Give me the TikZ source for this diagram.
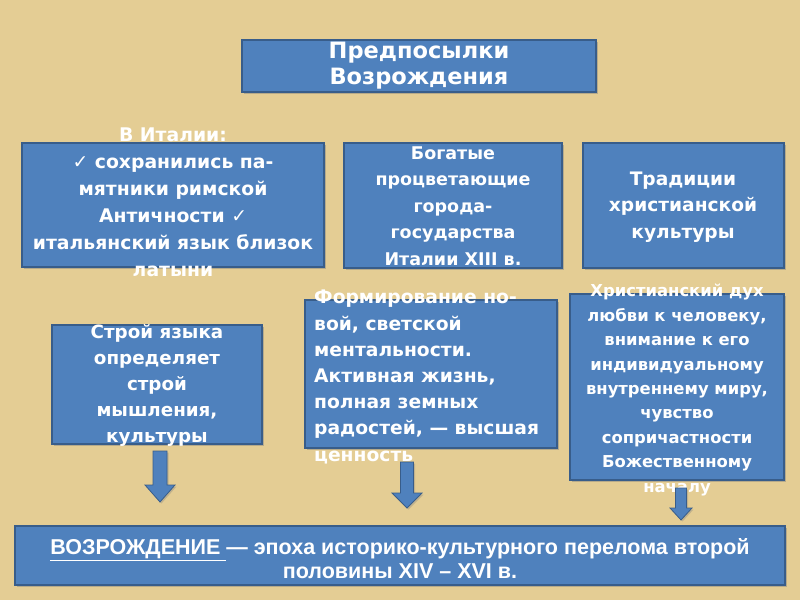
\documentclass[tikz,border=0pt]{standalone}
\usepackage{fontspec}
\usetikzlibrary{shadows}
\newfontfamily\bfont[BoldFont={DejaVu Sans Bold}]{DejaVu Sans}
\newfontfamily\nfont{Liberation Sans Bold}
\definecolor{parch}{RGB}{228,205,148}
\definecolor{boxfill}{RGB}{79,129,189}
\definecolor{boxline}{RGB}{56,93,138}
\tikzset{
  blbox/.style={draw=boxline, line width=1.2pt, fill=boxfill, inner sep=0pt,
    drop shadow={shadow xshift=2pt, shadow yshift=-2pt, opacity=0.45}},
  wtxt/.style={text=white, align=center, inner sep=0pt},
  barrow/.style={draw=boxline, fill=boxfill, line width=0.8pt, line join=miter,
    drop shadow={shadow xshift=1.5pt, shadow yshift=-1.5pt, opacity=0.35}}
}
% block arrow: #1 centre x, #2 top y, #3 shaft half width, #4 head start y, #5 head half width, #6 tip y
\newcommand\blockarr[6]{%
  \path[barrow] (#1-#3,#2) -- (#1+#3,#2) -- (#1+#3,#4) -- (#1+#5,#4) -- (#1,#6)
    -- (#1-#5,#4) -- (#1-#3,#4) -- cycle;}
\begin{document}
\begin{tikzpicture}[x=1pt,y=-1pt]
\fill[parch] (0,0) rectangle (800,600);
\useasboundingbox (0,0) rectangle (800,600);
% boxes
\node[blbox, minimum width=354pt, minimum height=52pt] (title) at (419,66) {};
\node[blbox, minimum width=302pt, minimum height=124pt] (b1) at (173,205) {};
\node[blbox, minimum width=218pt, minimum height=125pt] (b2) at (453,205.5) {};
\node[blbox, minimum width=201pt, minimum height=125pt] (b3) at (683.5,205.5) {};
\node[blbox, minimum width=210pt, minimum height=119pt] (b4) at (157,384.5) {};
\node[blbox, minimum width=252pt, minimum height=148pt] (b5) at (431,374) {};
\node[blbox, minimum width=214pt, minimum height=186pt] (b6) at (677,387) {};
\node[blbox, minimum width=770pt, minimum height=59pt] (res) at (400,555.5) {};
% texts
\node[wtxt, font=\bfont\bfseries\fontsize{22.5}{26}\selectfont] (tt) at (419,66) {Предпосылки\\Возрождения};
\node[wtxt, font=\bfont\bfseries\fontsize{18.8}{27}\selectfont] (t1) at (173,202) {В Италии:\\✓ сохранились па-\\мятники римской\\Античности ✓\\итальянский язык близок\\латыни};
\node[wtxt, font=\bfont\bfseries\fontsize{17.5}{26.5}\selectfont] (t2) at (453,206) {Богатые\\процветающие\\города-\\государства\\Италии XIII в.};
\node[wtxt, font=\bfont\bfseries\fontsize{18.6}{26.5}\selectfont] (t3) at (683,207) {Традиции\\христианской\\культуры};
\node[wtxt, font=\bfont\bfseries\fontsize{18.3}{26}\selectfont] (t4) at (157,385) {Строй языка\\определяет\\строй\\мышления,\\культуры};
\node[wtxt, align=left, anchor=west, font=\bfont\bfseries\fontsize{18.7}{26.2}\selectfont] (t5) at (314,377) {Формирование но-\\вой, светской\\ментальности.\\Активная жизнь,\\полная земных\\радостей, — высшая\\ценность};
\node[wtxt, font=\bfont\bfseries\fontsize{16.4}{24.4}\selectfont] (t6) at (677,390) {Христианский дух\\любви к человеку,\\внимание к его\\индивидуальному\\внутреннему миру,\\чувство\\сопричастности\\Божественному\\началу};
\node[wtxt, font=\nfont\fontsize{21.5}{24}\selectfont] (tr) at (400,559) {\underline{ВОЗРОЖДЕНИЕ }— эпоха историко-культурного перелома второй\\половины XIV – XVI в.};
% block arrows
\coordinate (a1) at (160,451);
\coordinate (a2) at (407,462);
\coordinate (a3) at (681,488);
\blockarr{160}{451}{7}{485}{15}{502}
\blockarr{407}{462}{6.5}{493}{15}{508}
\blockarr{681}{488}{5.5}{508}{11}{520}
\end{tikzpicture}
\end{document}
